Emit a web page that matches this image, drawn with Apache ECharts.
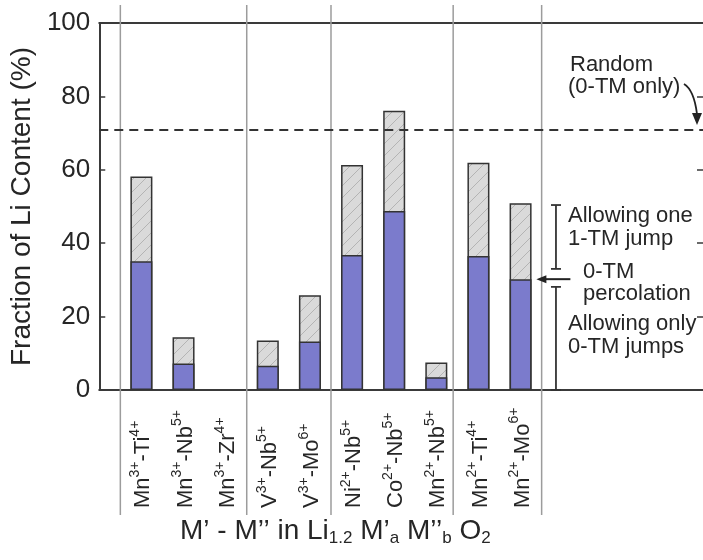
<!DOCTYPE html>
<html>
<head>
<meta charset="utf-8">
<script src="https://cdn.jsdelivr.net/npm/echarts@6/dist/echarts.min.js"></script>
<style>
  html, body { margin: 0; padding: 0; background: #fff; }
  #chart { width: 703px; height: 560px; }
</style>
</head>
<body>
<div id="chart"></div>
<script>
// Cation pairs M'-M'' (charges written after each element)
const categories = ['Mn3+-Ti4+', 'Mn3+-Nb5+', 'Mn3+-Zr4+', 'V3+-Nb5+', 'V3+-Mo6+',
                    'Ni2+-Nb5+', 'Co2+-Nb5+', 'Mn2+-Nb5+', 'Mn2+-Ti4+', 'Mn2+-Mo6+'];
// Accessible Li fraction (%) through 0-TM channels only
const zeroTmOnly = [35.1, 7.2, null, 6.6, 13.2, 36.8, 48.8, 3.5, 36.5, 30.2];
// Accessible Li fraction (%) when one 1-TM jump is also allowed
const withOneTmJump = [58.2, 14.4, null, 13.5, 25.8, 61.3, 76.1, 7.5, 61.9, 50.9];
// Random cation limit (0-TM only)
const randomLimit = 70.8;
const yTicks = [0, 20, 40, 60, 80, 100];
// Legend brackets: [low, high] in %, and the 0-TM percolation level
const bracketSpans = [[0, 28.1], [33.0, 50.4]];
const percolationLevel = 30.2;
// Group dividers between cation families (in category units)
const dividers = [-0.5, 2.5, 4.5, 7.4, 9.5];

const FONT = '"Liberation Sans", Arial, Helvetica, sans-serif';
const INK = '#262626';

// hatched light-grey fill
function hatchPattern() {
  const s = 12;
  const c = document.createElement('canvas');
  c.width = s; c.height = s;
  const g = c.getContext('2d');
  g.fillStyle = '#dadada';
  g.fillRect(0, 0, s, s);
  g.strokeStyle = '#b4b4b4';
  g.lineWidth = 1;
  g.beginPath();
  g.moveTo(-1, s + 1); g.lineTo(s + 1, -1);
  g.moveTo(-1, 1); g.lineTo(1, -1);
  g.moveTo(s - 1, s + 1); g.lineTo(s + 1, s - 1);
  g.stroke();
  return { image: c, repeat: 'repeat' };
}

// "Mn3+-Ti4+" -> rich text with superscript charges
function richLabel(label) {
  return label.split(/(\d\+)/).filter(p => p.length)
    .map(p => /^\d\+$/.test(p) ? '{s|' + p + '}' : '{b|' + p + '}').join('');
}

const chart = echarts.init(document.getElementById('chart'), null, { renderer: 'canvas' });

const xMin = -1, xMax = 13.33;
const bracketX = 9.84;

const option = {
  backgroundColor: '#fff',
  animation: false,
  grid: { left: 97, right: -3, top: 23, bottom: 170, containLabel: false },
  xAxis: [
    {
      type: 'value', min: xMin, max: xMax, position: 'bottom',
      axisLine: { show: true, onZero: false, lineStyle: { color: '#3a3a3a', width: 2 } },
      axisTick: { show: false },
      splitLine: { show: false },
      axisLabel: {
        customValues: categories.map((_, i) => i),
        formatter: v => richLabel(categories[Math.round(v)]),
        rotate: 90, align: 'left', verticalAlign: 'middle', margin: 118,
        color: INK, fontFamily: FONT,
        rich: {
          b: { fontSize: 22, lineHeight: 26, verticalAlign: 'bottom', fontFamily: FONT, color: INK },
          s: { fontSize: 14, lineHeight: 14, verticalAlign: 'top', fontFamily: FONT, color: INK }
        }
      }
    },
    {
      type: 'value', min: xMin, max: xMax, position: 'top',
      axisLine: { show: true, onZero: false, lineStyle: { color: '#3a3a3a', width: 2 } },
      axisTick: { show: false }, axisLabel: { show: false }, splitLine: { show: false }
    }
  ],
  yAxis: [
    {
      type: 'value', min: yTicks[0], max: yTicks[yTicks.length - 1], interval: 20,
      name: 'Fraction of Li Content (%)', nameLocation: 'middle', nameGap: 51,
      nameTextStyle: { fontSize: 28, fontFamily: FONT, color: INK },
      axisLine: { show: true, onZero: false, lineStyle: { color: '#3a3a3a', width: 2 } },
      axisTick: { show: true, inside: true, length: 6, lineStyle: { color: '#3a3a3a', width: 1.5 } },
      axisLabel: { fontSize: 26, fontFamily: FONT, color: INK, margin: 9 },
      splitLine: { show: false }
    },
    {
      type: 'value', min: yTicks[0], max: yTicks[yTicks.length - 1], interval: 20, position: 'right',
      axisLine: { show: false, onZero: false },
      axisTick: { show: true, inside: true, length: 6, lineStyle: { color: '#3a3a3a', width: 1.5 } },
      axisLabel: { show: false }, splitLine: { show: false }
    }
  ],
  series: [
    {
      name: 'dividers', type: 'custom', silent: true, z: 1, clip: false,
      data: dividers.map(v => [v, 0]),
      renderItem: (params, api) => {
        const p = api.coord([api.value(0), 0]);
        return {
          type: 'line',
          shape: { x1: p[0], y1: 5, x2: p[0], y2: 515 },
          style: { stroke: '#9c9c9c', lineWidth: 1.5 }
        };
      }
    },
    {
      name: 'one 1-TM jump', type: 'bar', z: 3, barWidth: 22, barGap: '-100%',
      data: withOneTmJump.map((v, i) => [i, v]),
      itemStyle: { color: hatchPattern(), borderColor: '#333', borderWidth: 1.5 },
      markLine: {
        silent: true, symbol: ['none', 'none'], label: { show: false },
        lineStyle: { type: [9, 6], width: 2, color: '#333' },
        data: [{ yAxis: randomLimit }]
      }
    },
    {
      name: '0-TM only', type: 'bar', z: 4, barWidth: 22, barGap: '-100%',
      data: zeroTmOnly.map((v, i) => [i, v]),
      itemStyle: { color: '#7b7bcc', borderColor: '#333', borderWidth: 1.5 }
    },
    {
      name: 'brackets', type: 'custom', silent: true, z: 5, clip: false,
      data: bracketSpans,
      renderItem: (params, api) => {
        const lo = api.coord([bracketX, api.value(0)]);
        const hi = api.coord([bracketX, api.value(1)]);
        const st = { stroke: '#333', lineWidth: 1.8 };
        return {
          type: 'group',
          children: [
            { type: 'line', shape: { x1: lo[0], y1: lo[1], x2: hi[0], y2: hi[1] }, style: st },
            { type: 'line', shape: { x1: lo[0] - 5, y1: lo[1], x2: lo[0] + 5, y2: lo[1] }, style: st },
            { type: 'line', shape: { x1: hi[0] - 5, y1: hi[1], x2: hi[0] + 5, y2: hi[1] }, style: st }
          ]
        };
      }
    },
    {
      name: 'percolation arrow', type: 'custom', silent: true, z: 5, clip: false,
      data: [[9.375, percolationLevel]],
      renderItem: (params, api) => {
        const tip = api.coord([api.value(0), api.value(1)]);
        return {
          type: 'group',
          children: [
            { type: 'line', shape: { x1: tip[0] + 7, y1: tip[1], x2: tip[0] + 34, y2: tip[1] },
              style: { stroke: '#222', lineWidth: 2 } },
            { type: 'polygon', shape: { points: [[tip[0], tip[1]], [tip[0] + 10, tip[1] - 4], [tip[0] + 10, tip[1] + 4]] },
              style: { fill: '#222' } }
          ]
        };
      }
    }
  ],
  graphic: [
    { type: 'text', left: 570, top: 54, style: { text: 'Random', font: '22px ' + FONT, fill: INK } },
    { type: 'text', left: 568, top: 76, style: { text: '(0-TM only)', font: '22px ' + FONT, fill: INK } },
    { type: 'bezierCurve', shape: { x1: 684, y1: 84, cpx1: 694, cpy1: 90, x2: 697, y2: 114 },
      style: { stroke: '#222', lineWidth: 1.8, fill: null } },
    { type: 'polygon', shape: { points: [[692, 113], [702, 113], [697, 125]] }, style: { fill: '#222' } },

    { type: 'text', left: 568, top: 205, style: { text: 'Allowing one', font: '22px ' + FONT, fill: INK } },
    { type: 'text', left: 568, top: 228, style: { text: '1-TM jump', font: '22px ' + FONT, fill: INK } },
    { type: 'text', left: 583, top: 261, style: { text: '0-TM', font: '22px ' + FONT, fill: INK } },
    { type: 'text', left: 583, top: 283, style: { text: 'percolation', font: '22px ' + FONT, fill: INK } },
    { type: 'text', left: 568, top: 313, style: { text: 'Allowing only', font: '22px ' + FONT, fill: INK } },
    { type: 'text', left: 568, top: 336, style: { text: '0-TM jumps', font: '22px ' + FONT, fill: INK } },

    {
      type: 'text', left: 180, top: 512,
      style: {
        text: '{m|M’ - M’’ in Li}{s|1.2}{m| M’}{s|a}{m| M’’}{s|b}{m| O}{s|2}',
        fill: INK,
        rich: {
          m: { fontSize: 28, lineHeight: 30, verticalAlign: 'top', fontFamily: FONT, fill: INK },
          s: { fontSize: 17, lineHeight: 17, verticalAlign: 'bottom', padding: [18, 0, 0, 0], fontFamily: FONT, fill: INK }
        }
      }
    }
  ]
};

chart.setOption(option);
</script>
</body>
</html>
